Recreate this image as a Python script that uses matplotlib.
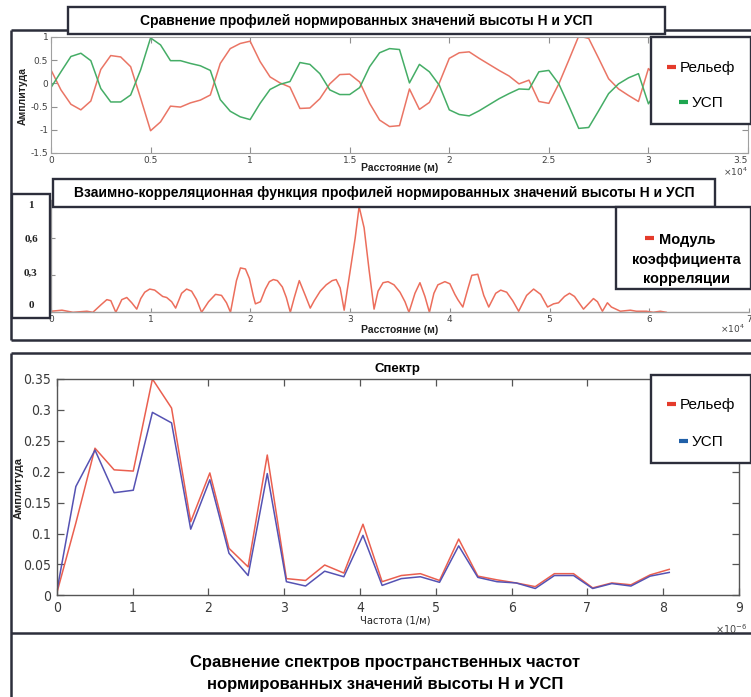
import numpy as np
import matplotlib
matplotlib.use("Agg")
import matplotlib.pyplot as plt
from matplotlib import font_manager
from matplotlib.font_manager import FontProperties
from matplotlib.patches import Rectangle

# ---------------------------------------------------------------- data
# Normalised profiles along the route (distance in units of 1e4 m)
prof_x = np.round(np.arange(0, 3.051, 0.05), 2)
relief = [0.29, -0.14, -0.45, -0.57, -0.38, 0.30, 0.60, 0.57, 0.36, -0.32,
          -1.02, -0.83, -0.49, -0.51, -0.42, -0.36, -0.25, 0.43, 0.75, 0.86,
          0.91, 0.47, 0.14, 0.01, -0.08, -0.54, -0.53, -0.33, -0.01, 0.19,
          0.20, 0.03, -0.43, -0.79, -0.93, -0.91, -0.12, -0.56, -0.41, 0.01,
          0.54, 0.66, 0.68, 0.54, 0.41, 0.28, 0.16, -0.01, 0.07, -0.39,
          -0.43, -0.01, 0.50, 1.02, 0.97, 0.54, 0.10, -0.12, -0.26, -0.39,
          0.32, 0.10]
usp = [-0.09, 0.25, 0.58, 0.65, 0.49, -0.11, -0.40, -0.40, -0.25, 0.29,
       0.98, 0.83, 0.49, 0.49, 0.43, 0.38, 0.28, -0.35, -0.60, -0.72,
       -0.78, -0.43, -0.13, -0.02, 0.04, 0.45, 0.41, 0.21, -0.14, -0.24,
       -0.24, -0.09, 0.36, 0.66, 0.75, 0.73, 0.01, 0.41, 0.25, -0.04,
       -0.57, -0.67, -0.70, -0.59, -0.46, -0.33, -0.22, -0.12, -0.13, 0.25,
       0.28, -0.01, -0.48, -0.97, -0.95, -0.59, -0.22, -0.01, 0.12, 0.21,
       -0.44, -0.10]

# Modulus of the cross-correlation coefficient (lag in units of 1e4 m)
corr_lag = [0.00, 0.11, 0.22, 0.36, 0.42, 0.50, 0.56, 0.60, 0.65, 0.71,
            0.76, 0.81, 0.86, 0.90, 0.94, 0.99, 1.04, 1.08, 1.12, 1.16,
            1.21, 1.25, 1.31, 1.36, 1.41, 1.46, 1.51, 1.58, 1.65, 1.71,
            1.76, 1.80, 1.86, 1.90, 1.95, 1.99, 2.03, 2.05, 2.10, 2.15,
            2.19, 2.23, 2.27, 2.32, 2.36, 2.40, 2.44, 2.49, 2.55, 2.60,
            2.64, 2.70, 2.76, 2.82, 2.86, 2.90, 2.94, 3.05, 3.09, 3.14,
            3.19, 3.24, 3.28, 3.33, 3.38, 3.44, 3.50, 3.55, 3.59, 3.65,
            3.70, 3.75, 3.795, 3.84, 3.88, 3.95, 4.00, 4.05, 4.08, 4.13,
            4.18, 4.22, 4.28, 4.34, 4.39, 4.46, 4.51, 4.57, 4.63, 4.69,
            4.77, 4.84, 4.91, 4.98, 5.04, 5.09, 5.15, 5.20, 5.25, 5.34,
            5.44, 5.48, 5.53, 5.58, 5.62, 5.71, 5.81, 5.87, 5.97, 6.04,
            6.11, 6.17]
corr_abs = [0.01, 0.02, 0.00, 0.01, 0.00, 0.07, 0.12, 0.11, 0.00, 0.12,
            0.14, 0.09, 0.03, 0.13, 0.19, 0.22, 0.21, 0.18, 0.15, 0.14,
            0.10, 0.04, 0.18, 0.22, 0.20, 0.12, 0.00, 0.10, 0.17, 0.16,
            0.09, 0.00, 0.30, 0.42, 0.41, 0.32, 0.15, 0.08, 0.10, 0.22,
            0.29, 0.31, 0.30, 0.24, 0.14, 0.00, 0.14, 0.30, 0.16, 0.04,
            0.11, 0.20, 0.26, 0.30, 0.31, 0.23, 0.02, 0.70, 1.00, 0.80,
            0.40, 0.03, 0.20, 0.28, 0.29, 0.26, 0.19, 0.10, 0.00, 0.18,
            0.28, 0.15, 0.00, 0.18, 0.26, 0.29, 0.27, 0.17, 0.12, 0.05,
            0.22, 0.35, 0.36, 0.16, 0.05, 0.18, 0.21, 0.19, 0.11, 0.01,
            0.16, 0.22, 0.17, 0.05, 0.08, 0.09, 0.15, 0.18, 0.15, 0.03,
            0.13, 0.10, 0.01, 0.09, 0.05, 0.01, 0.02, 0.01, 0.01, 0.00,
            0.01, 0.00]
corr_tick_labels = ["1", "0,6", "0,3", "0"]

# Amplitude spectra (frequency in units of 1e-6 1/m)
freq = [0.0, 0.2525, 0.505, 0.7575, 1.01, 1.2625, 1.515, 1.7675, 2.02,
        2.2725, 2.525, 2.7775, 3.03, 3.2825, 3.535, 3.7875, 4.04, 4.2925,
        4.545, 4.7975, 5.05, 5.3025, 5.555, 5.8075, 6.06, 6.3125, 6.565,
        6.8175, 7.07, 7.3225, 7.575, 7.8275, 8.08]
spec_relief = [0.003, 0.117, 0.238, 0.203, 0.201, 0.350, 0.303, 0.119, 0.198,
               0.076, 0.046, 0.227, 0.027, 0.024, 0.049, 0.036, 0.115, 0.022,
               0.032, 0.035, 0.024, 0.091, 0.031, 0.025, 0.020, 0.014, 0.035,
               0.035, 0.012, 0.020, 0.017, 0.033, 0.042]
spec_usp = [0.005, 0.176, 0.235, 0.166, 0.170, 0.296, 0.279, 0.107, 0.187,
            0.068, 0.032, 0.197, 0.022, 0.015, 0.039, 0.030, 0.097, 0.016,
            0.027, 0.030, 0.021, 0.080, 0.029, 0.022, 0.020, 0.011, 0.032,
            0.032, 0.011, 0.019, 0.015, 0.031, 0.037]

# ---------------------------------------------------------------- style
W, H = 751, 697
fonts = font_manager.fontManager.ttflist
available = {f.name for f in fonts}
SANS = "Liberation Sans" if "Liberation Sans" in available else "DejaVu Sans"
SERIF = "Liberation Serif" if "Liberation Serif" in available else "DejaVu Serif"
plt.rcParams["font.family"] = [SANS, "DejaVu Sans"]


def narrow_font(size):
    """A condensed sans face for the spectrum scale, if one is installed."""
    for f in fonts:
        tag = (f.name + " " + f.fname).lower()
        if (("narrow" in tag or "condensed" in tag) and f.style == "normal"
                and "bold" not in tag and "light" not in tag):
            return FontProperties(fname=f.fname, size=size)
    return FontProperties(family=SANS, size=size - 1)


FRAME = "#2c2e3b"
RED_P, GREEN_P = "#ea7565", "#45ad66"
RED_C = "#ec6e5c"
RED_S, BLUE_S = "#ea5f4f", "#5552b3"
KEY_RED, KEY_GREEN, KEY_BLUE = "#e43b2b", "#1ea650", "#2060a8"


def px_rect(x0, y0, x1, y1):
    """Axes rectangle from pixel edges measured from the top-left corner."""
    return [x0 / W, 1 - y1 / H, (x1 - x0) / W, (y1 - y0) / H]


fig = plt.figure(figsize=(W / 100, H / 100), dpi=100, facecolor="white")

# ---------------------------------------------------------------- profiles
ax1 = fig.add_axes(px_rect(51, 37, 748, 153))
ax1.plot(prof_x, relief, color=RED_P, lw=1.1, label="Рельеф")
ax1.plot(prof_x, usp, color=GREEN_P, lw=1.1, label="УСП")
ax1.set_xlim(0, 3.5)
ax1.set_ylim(-1.5, 1)
ax1.set_xticks([0, 0.5, 1, 1.5, 2, 2.5, 3, 3.5])
ax1.set_xticklabels(["0", "0.5", "1", "1.5", "2", "2.5", "3", "3.5"])
ax1.set_yticks([-1.5, -1, -0.5, 0, 0.5, 1])
ax1.set_yticklabels(["-1.5", "-1", "-0.5", "0", "0.5", "1"])
for s in ax1.spines.values():
    s.set_color("#a0a0a0")
    s.set_linewidth(0.8)
ax1.tick_params(direction="in", top=True, right=True, length=4, width=0.8,
                color="#909090", labelsize=6.5, labelcolor="#404040", pad=2)
for lab in ax1.get_xticklabels() + ax1.get_yticklabels():
    lab.set_family("DejaVu Sans")
ax1.get_xticklabels()[-1].set_horizontalalignment("right")
ax1.set_xlabel("Расстояние (м)", fontsize=7.5, fontweight="bold", color="#222222")
ax1.xaxis.set_label_coords(0.5, -0.085)
ax1.set_ylabel("Амплитуда", fontsize=7.5, fontweight="bold", color="#222222")
ax1.yaxis.set_label_coords(-0.033, 0.49)

# ---------------------------------------------------------------- correlation
ax2 = fig.add_axes(px_rect(51, 200, 749, 312.3))
ax2.plot(corr_lag, corr_abs, color=RED_C, lw=1.1,
         label="Модуль коэффициента корреляции")
ax2.set_xlim(0, 7)
ax2.set_ylim(0, 1.063)
ax2.set_xticks(range(0, 8))
ax2.set_yticks([0.35, 0.7])
ax2.set_yticklabels([])
for side in ("top", "right"):
    ax2.spines[side].set_visible(False)
for s in ("left", "bottom"):
    ax2.spines[s].set_color("#a0a0a0")
    ax2.spines[s].set_linewidth(1.0)
ax2.tick_params(direction="in", length=3, width=0.8, color="#909090",
                labelsize=6.5, labelcolor="#404040", pad=2)
for lab in ax2.get_xticklabels():
    lab.set_family("DejaVu Sans")
ax2.set_xlabel("Расстояние (м)", fontsize=7.5, fontweight="bold", color="#222222")
ax2.xaxis.set_label_coords(0.5, -0.11)

# ---------------------------------------------------------------- spectrum
ax3 = fig.add_axes(px_rect(56.7, 379, 739, 595.3))
ax3.plot(freq, spec_relief, color=RED_S, lw=1.1, label="Рельеф")
ax3.plot(freq, spec_usp, color=BLUE_S, lw=1.1, label="УСП")
ax3.set_xlim(0, 9)
ax3.set_ylim(0, 0.35)
ax3.set_xticks(range(0, 10))
ax3.set_yticks([0, 0.05, 0.1, 0.15, 0.2, 0.25, 0.3, 0.35])
ax3.set_yticklabels(["0", "0.05", "0.1", "0.15", "0.2", "0.25", "0.3", "0.35"])
for s in ax3.spines.values():
    s.set_color("#555555")
    s.set_linewidth(1.0)
ax3.tick_params(direction="in", top=True, right=True, length=5, width=0.9,
                color="#555555", labelcolor="#3a3a3a", pad=4)
scale_fp = narrow_font(10)
for lab in ax3.get_xticklabels() + ax3.get_yticklabels():
    lab.set_fontproperties(scale_fp)
ax3.set_title("Спектр", fontsize=9.5, fontweight="bold", pad=5)
ax3.set_xlabel("Частота (1/м)", fontproperties=narrow_font(8), color="#222222")
ax3.xaxis.set_label_coords(0.496, -0.095)
ax3.set_ylabel("Амплитуда", fontsize=8, fontweight="bold", color="#222222")
ax3.yaxis.set_label_coords(-0.048, 0.496)

# ---------------------------------------------------------------- overlay
ov = fig.add_axes([0, 0, 1, 1], facecolor="none")
ov.set_zorder(10)
ov.set_xlim(0, W)
ov.set_ylim(H, 0)
ov.axis("off")


def line(xs, ys, lw=1.8):
    ov.plot(xs, ys, color=FRAME, lw=lw, solid_capstyle="butt")


def box(x0, y0, x1, y1, lw=1.7):
    ov.add_patch(Rectangle((x0, y0), x1 - x0, y1 - y0, facecolor="white",
                           edgecolor=FRAME, lw=lw, zorder=3))


# panel frames
line([11, 11], [30, 340])
line([11, 68], [30, 30])
line([665, 751], [30, 30])
line([11, 751], [340, 340])
line([11, 11], [353, 697])
line([11, 751], [353, 353])
line([11, 751], [633, 633])

# title boxes
box(68, 7, 665, 34)
ov.text(366.5, 21, "Сравнение профилей нормированных значений высоты Н и УСП",
        ha="center", va="center", fontsize=10, fontweight="bold", zorder=4)
box(53, 179, 715, 207)
ov.text(384, 193.5,
        "Взаимно-корреляционная функция профилей нормированных значений высоты Н и УСП",
        ha="center", va="center", fontsize=10, fontweight="bold", zorder=4)

# value scale box of the correlation chart
box(12, 194, 50, 318)
for lab, yy in zip(corr_tick_labels, [206, 239, 273, 305]):
    ov.text(31, yy, lab, ha="center", va="center", fontsize=8,
            fontweight="bold", family=SERIF, color="#222222", zorder=4)


# keys
def key(x, y, color, text, size=11):
    ov.plot([x - 4.5, x + 4.5], [y, y], color=color, lw=3, zorder=4,
            solid_capstyle="butt")
    ov.text(x + 9, y + 1, text, ha="left", va="center", fontsize=size, zorder=4)


box(651, 37, 751, 124)
key(671, 67, KEY_RED, "Рельеф")
key(683, 102, KEY_GREEN, "УСП")

box(616, 207, 751, 289)
ov.plot([645, 654], [238, 238], color=KEY_RED, lw=3, zorder=4,
        solid_capstyle="butt")
ov.text(659, 240, "Модуль", ha="left", va="center", fontsize=10.5,
        fontweight="bold", zorder=4)
ov.text(686, 260, "коэффициента", ha="center", va="center", fontsize=10.5,
        fontweight="bold", zorder=4)
ov.text(686, 279, "корреляции", ha="center", va="center", fontsize=10.5,
        fontweight="bold", zorder=4)

box(651, 375, 751, 463)
key(671, 404, KEY_RED, "Рельеф")
key(683, 441, KEY_BLUE, "УСП")

# axis multipliers
ov.text(735, 172, r"$\times10^{4}$", ha="center", va="center", fontsize=6.5,
        color="#444444")
ov.text(732, 329, r"$\times10^{4}$", ha="center", va="center", fontsize=6.5,
        color="#444444")
ov.text(731, 629, r"$\times10^{-6}$", ha="center", va="center", fontsize=7,
        color="#444444")

# caption
ov.text(385, 662, "Сравнение спектров пространственных частот",
        ha="center", va="center", fontsize=12, fontweight="bold")
ov.text(385, 684, "нормированных значений высоты Н и УСП",
        ha="center", va="center", fontsize=12, fontweight="bold")

fig.savefig("out.png", dpi=100, facecolor="white")
